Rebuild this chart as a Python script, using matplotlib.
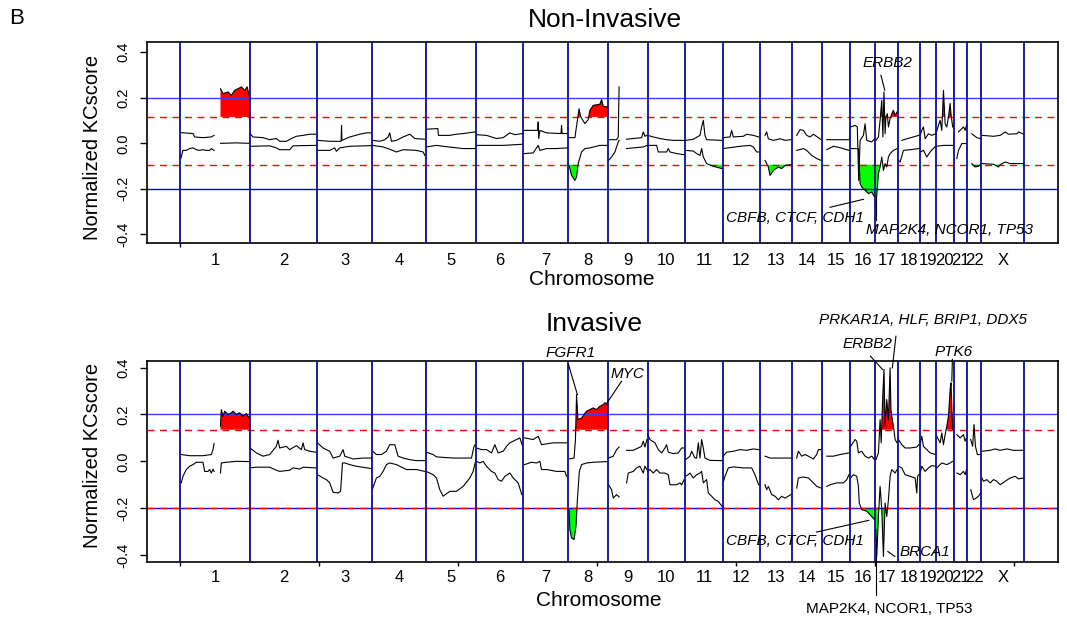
import numpy as np
import matplotlib
matplotlib.use("Agg")
import matplotlib.pyplot as plt
from matplotlib.transforms import blended_transform_factory

plt.rcParams["font.family"] = ["Liberation Sans", "DejaVu Sans"]

W, H = 1067, 622

CHROM_NAMES = ["1", "2", "3", "4", "5", "6", "7", "8", "9", "10", "11", "12",
               "13", "14", "15", "16", "17", "18", "19", "20", "21", "22", "X"]
CHROM_LEN_MB = [249.25, 243.20, 198.02, 191.15, 180.92, 171.12, 159.14, 146.36,
                141.21, 135.53, 135.01, 133.85, 115.17, 107.35, 102.53, 90.35,
                81.20, 78.08, 59.13, 63.03, 48.13, 51.30, 155.27]

# significance thresholds (amp, del) and reference level
NONINV_THRESH = (0.116, -0.094)
INV_THRESH = (0.135, -0.198)
REF_LEVEL = 0.2

# (genome position in Mb, KCscore); None breaks the line
NONINV_AMP = [
    (1, 0.047), (45, 0.043), (51, 0.028), (81, 0.025), (111, 0.028), (121, 0.035), None,
    (144, 0.240), (153, 0.218), (171, 0.226), (183, 0.211), (195, 0.233), (207, 0.240),
    (219, 0.248), (231, 0.233), (240, 0.248), (247, 0.211), None,
    (250, 0.043), (261, 0.028), (297, 0.025), (321, 0.016), (345, 0.021), (357, 0.009),
    (381, 0.009), (399, 0.021), (417, 0.031), (441, 0.035), (465, 0.040), (487, 0.040), None,
    (493, 0.013), (537, 0.009), (578, 0.009), (579.5, 0.079), (581, 0.013), (609, 0.028),
    (645, 0.040), (669, 0.046), (687, 0.046), None,
    (692, 0.013), (717, 0.009), (735, 0.016), (747, 0.028), (753, 0.046), (759, 0.009),
    (777, 0.013), (801, 0.028), (825, 0.040), (843, 0.021), (879, 0.018), None,
    (884, 0.062), (926, 0.065), (928, 0.035), (969, 0.035), (993, 0.040), (1017, 0.043),
    (1060, 0.050), None,
    (1065, 0.038), (1101, 0.035), (1137, 0.021), (1161, 0.025), (1185, 0.046),
    (1203, 0.038), (1231, 0.043), None,
    (1238, 0.057), (1285, 0.057), (1287, 0.094), (1289, 0.021), (1293, 0.057),
    (1317, 0.046), (1369, 0.043), (1371, 0.079), (1373, 0.043), (1392, 0.043), None,
    (1398, 0.025), (1419, 0.025), (1428, 0.101), (1434, 0.152), (1440, 0.116),
    (1455, 0.087), (1467, 0.104), (1473, 0.145), (1485, 0.167), (1509, 0.172),
    (1515, 0.192), (1521, 0.163), (1536, 0.160), None,
    (1540, 0.016), (1569, 0.016), (1575, 0.028), (1578, 0.248), None,
    (1605, 0.018), (1629, 0.021), (1659, 0.025), (1665, 0.050), (1671, 0.031), (1678, 0.035), None,
    (1681, 0.035), (1701, 0.028), (1725, 0.021), (1749, 0.016), (1773, 0.013), (1812, 0.013), None,
    (1817, 0.013), (1845, 0.018), (1869, 0.035), (1875, 0.072), (1881, 0.101), (1887, 0.035),
    (1893, 0.016), (1948, 0.013), None,
    (1952, 0.025), (1977, 0.028), (1983, 0.057), (1989, 0.028), (2025, 0.031), (2037, 0.040),
    (2061, 0.035), (2080, 0.028), None,
    (2103, 0.035), (2109, 0.050), (2115, 0.020), (2133, 0.013), (2157, 0.020), (2175, 0.013),
    (2196, 0.016), None,
    (2217, 0.035), (2229, 0.060), (2241, 0.057), (2253, 0.035), (2265, 0.028), (2277, 0.040),
    (2295, 0.025), (2305, 0.016), None,
    (2325, 0.016), (2405, 0.016), None,
    (2411, 0.072), (2427, 0.079), (2435, 0.072), (2440, -0.163), (2445, 0.013), (2457, 0.035),
    (2463, 0.086), (2469, 0.013), (2487, 0.006), (2497, 0.020), None,
    (2502, 0.013), (2511, 0.028), (2517, 0.101), (2523, 0.189), (2527, 0.028), (2531, 0.226),
    (2535, 0.042), (2538, 0.116), (2543, 0.130), (2547, 0.072), (2553, 0.108), (2559, 0.130),
    (2565, 0.145), (2571, 0.123), (2578, 0.138), None,
    (2595, 0.013), (2613, 0.020), (2637, 0.028), (2656, 0.035), None,
    (2661, 0.035), (2667, 0.057), (2673, 0.072), (2679, 0.020), (2691, 0.042), (2703, 0.035),
    (2716, 0.042), None,
    (2720, 0.050), (2727, 0.079), (2733, 0.101), (2739, 0.057), (2745, 0.233), (2751, 0.086),
    (2757, 0.072), (2763, 0.116), (2769, 0.175), (2772, 0.130), (2778, 0.072), None,
    (2799, 0.050), (2811, 0.065), (2817, 0.072), (2823, 0.057), (2828, 0.079), None,
    (2847, 0.042), (2865, 0.025), (2879, 0.020), None,
    (2883, 0.035), (2925, 0.031), (2949, 0.035), (2967, 0.050), (2979, 0.040), (3009, 0.042),
    (3015, 0.050), (3034, 0.040),
]

NONINV_DEL = [
    (1, -0.067), (9, -0.031), (21, -0.031), (33, -0.023), (45, -0.020), (57, -0.028),
    (69, -0.031), (81, -0.028), (93, -0.031), (105, -0.031), (111, -0.023), (121, -0.031), None,
    (144, 0.000), (201, 0.002), (247, 0.000), None,
    (250, -0.013), (321, -0.011), (345, -0.020), (357, -0.028), (393, -0.028), (405, -0.011),
    (487, -0.009), None,
    (493, -0.031), (537, -0.031), (555, -0.020), (561, -0.035), (573, -0.020), (609, -0.013),
    (687, -0.010), None,
    (692, -0.009), (729, -0.016), (753, -0.026), (777, -0.038), (801, -0.028), (849, -0.031),
    (873, -0.038), (879, -0.053), None,
    (884, -0.016), (921, -0.009), (945, -0.013), (1017, -0.023), (1060, -0.023), None,
    (1065, -0.009), (1161, -0.009), (1231, -0.004), None,
    (1238, -0.045), (1269, -0.042), (1287, -0.009), (1293, -0.031), (1317, -0.023),
    (1353, -0.023), (1392, -0.020), None,
    (1398, -0.097), (1407, -0.141), (1419, -0.163), (1425, -0.148), (1431, -0.089),
    (1443, -0.038), (1455, -0.023), (1473, -0.020), (1509, -0.009), (1536, -0.009), None,
    (1540, -0.075), (1551, -0.060), (1563, -0.038), (1575, 0.006), (1578, 0.013), None,
    (1605, -0.023), (1641, -0.019), (1665, -0.016), (1678, -0.009), None,
    (1681, -0.009), (1713, -0.009), (1719, -0.038), (1749, -0.038), (1755, -0.023),
    (1761, -0.038), (1785, -0.045), (1812, -0.050), None,
    (1817, -0.031), (1845, -0.034), (1857, -0.045), (1869, -0.053), (1875, -0.023),
    (1881, -0.060), (1893, -0.089), (1917, -0.101), (1948, -0.111), None,
    (1952, -0.023), (1977, -0.019), (2013, -0.013), (2049, -0.009), (2061, -0.016),
    (2073, -0.038), (2080, -0.038), None,
    (2103, -0.075), (2115, -0.104), (2121, -0.141), (2133, -0.119), (2151, -0.104),
    (2163, -0.111), (2175, -0.097), (2196, -0.094), None,
    (2217, -0.031), (2241, -0.023), (2253, -0.031), (2271, -0.053), (2289, -0.067),
    (2305, -0.075), None,
    (2325, -0.028), (2349, -0.013), (2373, -0.019), (2405, -0.031), None,
    (2411, -0.023), (2439, -0.023), (2445, -0.177), (2451, -0.192), (2463, -0.206),
    (2475, -0.221), (2487, -0.214), (2497, -0.236), None,
    (2502, -0.265), (2505, -0.229), (2511, -0.133), (2517, -0.104), (2523, -0.060),
    (2529, -0.119), (2535, -0.089), (2541, -0.104), (2547, -0.060), (2553, -0.045),
    (2565, -0.031), (2578, -0.023), None,
    (2583, -0.075), (2589, -0.082), (2601, -0.031), (2625, -0.028), (2656, -0.023), None,
    (2661, -0.038), (2673, -0.031), (2685, -0.060), (2697, -0.038), (2716, -0.013), None,
    (2720, -0.013), (2745, -0.009), (2778, -0.009), None,
    (2793, -0.067), (2799, -0.031), (2811, -0.001), (2828, -0.001), None,
    (2847, -0.089), (2859, -0.104), (2871, -0.101), (2879, -0.092), None,
    (2883, -0.089), (2925, -0.092), (2943, -0.104), (2949, -0.094), (2967, -0.082),
    (2985, -0.089), (3034, -0.089),
]

INV_AMP = [
    (3, 0.029), (33, 0.024), (81, 0.024), (111, 0.029), (117, 0.050), (121, 0.076), None,
    (144, 0.150), (147, 0.221), (153, 0.192), (159, 0.214), (171, 0.200), (183, 0.207),
    (189, 0.214), (201, 0.200), (213, 0.207), (225, 0.192), (237, 0.204), (247, 0.185), None,
    (250, 0.057), (273, 0.036), (297, 0.022), (321, 0.029), (345, 0.064), (351, 0.090),
    (357, 0.057), (381, 0.064), (393, 0.050), (417, 0.067), (435, 0.050), (441, 0.079),
    (447, 0.050), (465, 0.043), (487, 0.039), None,
    (493, 0.079), (513, 0.057), (537, 0.043), (549, 0.014), (573, 0.022), (585, 0.050),
    (591, 0.022), (621, 0.010), (657, 0.014), (687, 0.014), None,
    (692, 0.043), (705, 0.029), (723, 0.029), (741, 0.043), (753, 0.071), (771, 0.071),
    (783, 0.022), (801, 0.014), (825, 0.007), (849, 0.003), (879, 0.003), None,
    (884, 0.039), (909, 0.029), (921, 0.019), (981, 0.014), (1047, 0.014), (1056, 0.064),
    (1060, 0.071), None,
    (1065, 0.057), (1083, 0.050), (1101, 0.050), (1119, 0.036), (1131, 0.071), (1143, 0.036),
    (1161, 0.043), (1173, 0.064), (1185, 0.079), (1209, 0.093), (1221, 0.100), (1227, 0.079),
    (1231, 0.064), None,
    (1238, 0.100), (1269, 0.093), (1287, 0.107), (1299, 0.071), (1341, 0.079), (1389, 0.079), None,
    (1398, 0.010), (1416, 0.014), (1421, 0.093), (1425, 0.285), (1430, 0.178), (1443, 0.185),
    (1461, 0.214), (1473, 0.221), (1485, 0.228), (1497, 0.221), (1509, 0.235), (1521, 0.242),
    (1527, 0.250), (1536, 0.242), None,
    (1540, 0.014), (1557, 0.022), (1569, 0.050), (1578, 0.061), None,
    (1605, 0.047), (1629, 0.047), (1647, 0.057), (1659, 0.064), (1665, 0.086), (1671, 0.061),
    (1678, 0.093), None,
    (1681, 0.114), (1689, 0.093), (1707, 0.079), (1719, 0.050), (1731, 0.036), (1743, 0.057),
    (1749, 0.071), (1755, 0.039), (1773, 0.033), (1791, 0.036), (1803, 0.057), (1812, 0.057), None,
    (1817, 0.007), (1833, 0.022), (1839, 0.043), (1851, 0.014), (1857, 0.014), (1863, 0.079),
    (1869, 0.014), (1875, 0.093), (1881, 0.057), (1887, 0.014), (1905, 0.004), (1948, 0.003), None,
    (1952, 0.022), (1965, 0.039), (1989, 0.043), (2013, 0.050), (2037, 0.047), (2061, 0.053),
    (2080, 0.050), None,
    (2103, 0.022), (2121, 0.014), (2157, 0.014), (2196, 0.014), None,
    (2217, 0.014), (2223, 0.043), (2235, 0.022), (2247, 0.029), (2259, 0.022), (2277, 0.010),
    (2289, 0.029), (2295, 0.050), (2305, 0.050), None,
    (2325, 0.022), (2349, 0.022), (2373, 0.029), (2405, 0.036), None,
    (2411, 0.064), (2427, 0.093), (2433, 0.086), (2439, 0.036), (2451, 0.043), (2463, 0.022),
    (2475, 0.014), (2487, 0.022), (2497, 0.007), None,
    (2502, 0.007), (2511, 0.036), (2517, 0.178), (2521, 0.079), (2527, 0.292), (2531, 0.392),
    (2535, 0.150), (2541, 0.264), (2547, 0.178), (2553, 0.399), (2556, 0.221), (2561, 0.178),
    (2565, 0.150), (2571, 0.093), (2578, 0.079), None,
    (2583, 0.093), (2595, 0.071), (2607, 0.057), (2625, 0.057), (2649, 0.061), (2656, 0.071), None,
    (2661, 0.071), (2667, 0.107), (2673, 0.064), (2685, 0.050), (2697, 0.036), (2716, 0.029), None,
    (2721, 0.107), (2733, 0.079), (2739, 0.121), (2745, 0.071), (2751, 0.114), (2757, 0.150),
    (2763, 0.192), (2769, 0.306), (2772, 0.335), (2778, 0.136), None,
    (2793, 0.114), (2805, 0.100), (2817, 0.114), (2823, 0.086), (2828, 0.100), None,
    (2843, 0.093), (2850, 0.064), (2855, 0.157), (2860, 0.064), (2867, 0.029), (2879, 0.029), None,
    (2883, 0.043), (2913, 0.047), (2931, 0.053), (2949, 0.047), (2973, 0.053), (2997, 0.047),
    (3034, 0.047),
]

INV_DEL = [
    (3, -0.092), (9, -0.064), (21, -0.035), (33, -0.021), (45, -0.014), (57, -0.004),
    (81, -0.004), (87, -0.043), (99, -0.043), (105, -0.035), (111, -0.050), (117, -0.033),
    (121, -0.043), None,
    (144, -0.050), (147, -0.007), (165, -0.004), (201, 0.000), (247, -0.001), None,
    (250, -0.028), (273, -0.025), (321, -0.025), (345, -0.038), (357, -0.043), (393, -0.038),
    (405, -0.028), (429, -0.033), (441, -0.025), (487, -0.028), None,
    (493, -0.057), (513, -0.071), (525, -0.078), (537, -0.092), (549, -0.132), (567, -0.135),
    (576, -0.128), (583, -0.007), (591, -0.007), (609, -0.014), (633, -0.021), (687, -0.031), None,
    (692, -0.114), (705, -0.071), (717, -0.064), (729, -0.043), (741, -0.014), (753, -0.007),
    (777, -0.014), (789, -0.021), (813, -0.035), (849, -0.035), (879, -0.043), None,
    (884, -0.043), (909, -0.057), (921, -0.071), (933, -0.121), (945, -0.149), (969, -0.128),
    (993, -0.128), (1017, -0.107), (1041, -0.071), (1053, -0.043), (1060, -0.007), None,
    (1065, 0.000), (1077, -0.007), (1089, 0.000), (1101, -0.021), (1119, -0.043),
    (1131, -0.050), (1143, -0.078), (1155, -0.085), (1167, -0.064), (1185, -0.050),
    (1197, -0.071), (1215, -0.092), (1228, -0.142), None,
    (1238, -0.014), (1263, -0.004), (1281, -0.007), (1293, 0.000), (1299, -0.035),
    (1317, -0.035), (1353, -0.043), (1383, -0.043), (1389, -0.064), None,
    (1398, -0.206), (1401, -0.292), (1407, -0.327), (1416, -0.334), (1423, -0.278),
    (1428, -0.164), (1435, -0.043), (1443, -0.014), (1461, -0.007), (1485, -0.004),
    (1536, -0.001), None,
    (1540, -0.100), (1551, -0.121), (1557, -0.157), (1569, -0.142), (1578, -0.152), None,
    (1605, -0.092), (1611, -0.050), (1629, -0.043), (1641, -0.028), (1653, -0.021),
    (1659, -0.035), (1665, -0.050), (1671, -0.021), (1678, -0.035), None,
    (1681, -0.043), (1689, -0.035), (1701, -0.050), (1713, -0.035), (1725, -0.050),
    (1743, -0.050), (1755, -0.057), (1761, -0.100), (1785, -0.100), (1797, -0.092),
    (1803, -0.100), (1812, -0.078), None,
    (1817, -0.064), (1827, -0.057), (1833, -0.050), (1845, -0.071), (1857, -0.057),
    (1869, -0.050), (1875, -0.043), (1881, -0.092), (1893, -0.078), (1899, -0.135),
    (1911, -0.149), (1923, -0.164), (1935, -0.171), (1948, -0.192), None,
    (1952, -0.092), (1959, -0.064), (1971, -0.028), (1989, -0.024), (2025, -0.028),
    (2055, -0.028), (2067, -0.057), (2080, -0.100), None,
    (2103, -0.100), (2109, -0.121), (2115, -0.107), (2127, -0.142), (2139, -0.149),
    (2151, -0.164), (2163, -0.149), (2175, -0.157), (2196, -0.142), None,
    (2217, -0.114), (2223, -0.071), (2241, -0.067), (2259, -0.071), (2277, -0.092),
    (2289, -0.107), (2305, -0.114), None,
    (2325, -0.107), (2337, -0.100), (2361, -0.092), (2385, -0.092), (2397, -0.078),
    (2405, -0.057), None,
    (2411, -0.071), (2421, -0.057), (2433, -0.064), (2439, -0.107), (2442, -0.178),
    (2451, -0.206), (2469, -0.213), (2481, -0.228), (2497, -0.249), None,
    (2502, -0.292), (2505, -0.406), (2511, -0.235), (2517, -0.107), (2523, -0.206),
    (2529, -0.406), (2535, -0.178), (2541, -0.235), (2547, -0.164), (2553, -0.064),
    (2559, -0.035), (2571, -0.050), (2578, -0.035), None,
    (2583, -0.021), (2595, -0.028), (2607, -0.057), (2625, -0.064), (2643, -0.071),
    (2649, -0.135), (2652, -0.064), (2656, -0.057), None,
    (2661, -0.050), (2667, -0.021), (2679, -0.043), (2691, -0.028), (2703, -0.018),
    (2716, -0.021), None,
    (2721, -0.028), (2739, -0.007), (2757, -0.014), (2769, -0.007), (2778, 0.000), None,
    (2793, -0.050), (2805, -0.057), (2817, -0.043), (2823, -0.057), (2828, -0.035), None,
    (2843, -0.121), (2853, -0.164), (2862, -0.157), (2871, -0.149), (2879, -0.135), None,
    (2883, -0.071), (2889, -0.085), (2901, -0.078), (2913, -0.092), (2925, -0.078),
    (2937, -0.085), (2949, -0.100), (2967, -0.085), (2985, -0.071), (3003, -0.064),
    (3015, -0.075), (3034, -0.071),
]

# gene labels: text, label position (Mb, score), leader line end points, italic
NONINV_GENES = [
    ("ERBB2", (2545, 0.352), [(2520, 0.299), (2534, 0.233)], True),
    ("CBFB, CTCF, CDH1", (2212, -0.330), [(2337, -0.281), (2457, -0.246)], True),
    ("MAP2K4, NCOR1, TP53", (2765, -0.382), [(2501, -0.237), (2501, -0.338)], True),
]
INV_GENES = [
    ("FGFR1", (1403, 0.461), [(1396, 0.413), (1428, 0.285)], True),
    ("MYC", (1607, 0.373), [(1587, 0.342), (1535, 0.250)], True),
    ("PRKAR1A, HLF, BRIP1, DDX5", (2671, 0.604), [(2574, 0.534), (2561, 0.399)], True),
    ("ERBB2", (2470, 0.502), [(2482, 0.449), (2526, 0.392)], True),
    ("PTK6", (2781, 0.468), [(2777, 0.435), (2775, 0.342)], True),
    ("CBFB, CTCF, CDH1", (2210, -0.339), [(2288, -0.302), (2476, -0.252)], True),
    ("BRCA1", (2677, -0.389), [(2545, -0.385), (2570, -0.406)], True),
    ("MAP2K4, NCOR1, TP53", (2549, -0.629), [(2501, -0.377), (2501, -0.570)], False),
]


def split_trace(points):
    x = np.array([np.nan if p is None else p[0] for p in points], dtype=float)
    y = np.array([np.nan if p is None else p[1] for p in points], dtype=float)
    return x, y


def fy(py):
    return 1 - py / H


chrom_edges = np.concatenate([[0.0], np.cumsum(CHROM_LEN_MB)])
chrom_mid = (chrom_edges[:-1] + chrom_edges[1:]) / 2
genome_len = chrom_edges[-1]


def draw_panel(ax, amp, dele, thresh, ylim, genes, xticks, lab_py):
    xa, ya = split_trace(amp)
    xd, yd = split_trace(dele)
    hi, lo = thresh
    with np.errstate(invalid="ignore"):
        ax.fill_between(xa, hi, ya, where=ya > hi, interpolate=True,
                        color="#ff0000", lw=0, zorder=1)
        ax.fill_between(xd, lo, yd, where=yd < lo, interpolate=True,
                        color="#00ff00", lw=0, zorder=1)
    ax.plot(xa, ya, color="black", lw=0.8, zorder=3)
    ax.plot(xd, yd, color="black", lw=0.8, zorder=3)

    for edge in chrom_edges:
        ax.axvline(edge, color="#0d0d8f", lw=1.3, zorder=4)
    ax.axhline(REF_LEVEL, color="#3c3cff", lw=1.0, zorder=2)
    ax.axhline(-REF_LEVEL, color="#0000ff", lw=1.0, zorder=2)
    ax.axhline(hi, color="red", lw=1.0, ls=(0, (5, 4)), zorder=2)
    ax.axhline(lo, color="red", lw=1.0, ls=(0, (5, 4)), zorder=2)

    ax.set_xlim(-0.04 * genome_len, 1.04 * genome_len)
    ax.set_ylim(*ylim)
    ax.set_yticks([-0.4, -0.2, 0.0, 0.2, 0.4])
    ax.set_yticklabels(["-0.4", "-0.2", "0.0", "0.2", "0.4"], rotation=90, va="center")
    ax.tick_params(axis="y", length=5, width=1, pad=7, labelsize=10.5)
    ax.set_xticks(xticks)
    ax.set_xticklabels([])
    ax.tick_params(axis="x", length=3, width=1)
    for sp in ax.spines.values():
        sp.set_linewidth(1.2)

    trans = blended_transform_factory(ax.transData, ax.figure.transFigure)
    for name, mid in zip(CHROM_NAMES, chrom_mid):
        ax.text(mid, fy(lab_py), name, transform=trans, ha="center", va="center",
                fontsize=12)

    for label, (tx, ty), line, italic in genes:
        lx, ly = zip(*line)
        ax.plot(lx, ly, color="black", lw=0.8, clip_on=False, zorder=5)
        ax.text(tx, ty, label, ha="center", va="center", fontsize=11,
                style="italic" if italic else "normal", clip_on=False, zorder=5)


fig = plt.figure(figsize=(W / 100, H / 100), dpi=100)
left, width = 146.7 / W, (1058.2 - 146.7) / W
ax_top = fig.add_axes([left, fy(243.0), width, (243.0 - 42.3) / H])
ax_bot = fig.add_axes([left, fy(562.3), width, (562.3 - 361.3) / H])

draw_panel(ax_top, NONINV_AMP, NONINV_DEL, NONINV_THRESH, (-0.438, 0.444),
           NONINV_GENES, [0], 260.5)
draw_panel(ax_bot, INV_AMP, INV_DEL, INV_THRESH, (-0.431, 0.427),
           INV_GENES, [0, 500, 1000, 1500, 2000, 2500, 3000], 577.5)

fig.text(17 / W, fy(19), "B", fontsize=16, ha="center", va="center")
fig.text(605 / W, fy(20), "Non-Invasive", fontsize=19, ha="center", va="center")
fig.text(594 / W, fy(324), "Invasive", fontsize=19, ha="center", va="center")
fig.text(592 / W, fy(280), "Chromosome", fontsize=15, ha="center", va="center")
fig.text(599 / W, fy(600), "Chromosome", fontsize=15, ha="center", va="center")
fig.text(93 / W, fy(147), "Normalized KCscore", fontsize=14.5, rotation=90,
         ha="center", va="center")
fig.text(92 / W, fy(455), "Normalized KCscore", fontsize=14.5, rotation=90,
         ha="center", va="center")

fig.savefig("out.png", dpi=100)
